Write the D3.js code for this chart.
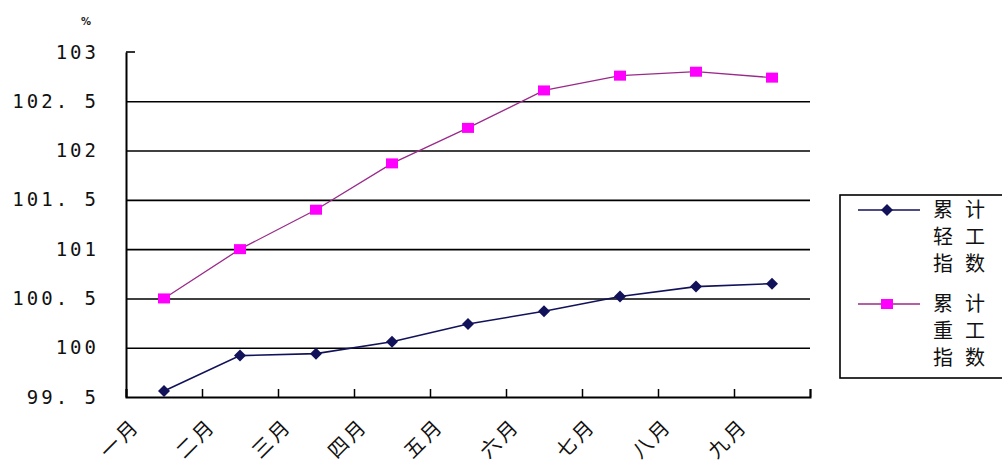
<!DOCTYPE html>
<html>
<head>
<meta charset="utf-8">
<script src="https://cdn.jsdelivr.net/npm/d3@7"></script>
<style>
  body { margin: 0; background: #fff; }
  svg { display: block; }
</style>
</head>
<body>
<div id="chart"></div>
<script>
// data
let months = ["一月", "二月", "三月", "四月", "五月", "六月", "七月", "八月", "九月"];
let lightIndex = [99.56, 99.92, 99.94, 100.06, 100.24, 100.37, 100.52, 100.62, 100.65];
let heavyIndex = [100.5, 101.0, 101.4, 101.87, 102.23, 102.61, 102.76, 102.8, 102.74];
let yTicks = [99.5, 100, 100.5, 101, 101.5, 102, 102.5, 103];
let seriesNames = [["累计", "轻工", "指数"], ["累计", "重工", "指数"]];

let svgWidth = 1002;
let svgHeight = 469;
let margin = { top: 52, right: 192, bottom: 72, left: 126 };
let chartWidth = svgWidth - margin.left - margin.right;
let chartHeight = svgHeight - margin.top - margin.bottom;

let navy = "#12125a";
let magenta = "#ff00ff";
let heavyLine = "#9a2a8a";
let cjk = "'Noto Sans CJK SC', sans-serif";
let diamondPath = "M0,-6L6,0L0,6L-6,0Z";

let svg = d3.select("#chart").append("svg")
  .attr("width", svgWidth)
  .attr("height", svgHeight);

let chartGroup = svg.append("g")
  .attr("transform", `translate(${margin.left}, ${margin.top})`);

// scales
let xBand = d3.scaleBand().domain(months).range([0, chartWidth]);
let xTick = d3.scaleLinear().domain([0, months.length]).range([0, chartWidth]);
let yScale = d3.scaleLinear().domain([99.5, 103]).range([chartHeight, 0]);

// gridlines (not at the top value, which only gets a short tick)
chartGroup.append("g")
  .attr("class", "grid")
  .call(d3.axisLeft(yScale)
    .tickValues(yTicks.filter(d => d > 99.5 && d < 103))
    .tickSize(-chartWidth)
    .tickFormat(""))
  .call(g => g.select(".domain").remove())
  .selectAll("line")
  .attr("stroke", "#000")
  .attr("stroke-width", 1.6);

// short inner tick at the top
chartGroup.append("line")
  .attr("x1", 0).attr("x2", 9)
  .attr("y1", yScale(103)).attr("y2", yScale(103))
  .attr("stroke", "#000").attr("stroke-width", 1.6);

// y axis with labels
let yAxisG = chartGroup.append("g")
  .call(d3.axisLeft(yScale).tickValues(yTicks).tickSize(0).tickPadding(27)
    .tickFormat(d => d3.format("")(d).replace(".", ". ")));
yAxisG.select(".domain").attr("stroke", "#000").attr("stroke-width", 2);
yAxisG.selectAll("text")
  .attr("font-family", "'DejaVu Sans Mono', monospace")
  .attr("font-size", 19)
  .attr("letter-spacing", 3)
  .attr("fill", "#111");

// % unit
svg.append("text")
  .attr("x", 86).attr("y", 25)
  .attr("text-anchor", "middle")
  .attr("font-family", "'DejaVu Sans', sans-serif")
  .attr("font-size", 10)
  .attr("font-weight", "bold")
  .attr("fill", "#222")
  .text("%");

// x axis with inner ticks on the category boundaries
let xAxisG = chartGroup.append("g")
  .attr("transform", `translate(0, ${chartHeight})`)
  .call(d3.axisBottom(xTick).tickValues(d3.range(months.length + 1))
    .tickSize(-8).tickFormat(""));
xAxisG.select(".domain").attr("stroke", "#000").attr("stroke-width", 2);
xAxisG.selectAll("line").attr("stroke", "#000").attr("stroke-width", 1.5);

// rotated month labels
chartGroup.selectAll(".monthLabel")
  .data(months)
  .enter()
  .append("text")
  .attr("class", "monthLabel")
  .attr("transform", (d, i) => `translate(${xTick(i) + 10}, ${chartHeight + 25}) rotate(-45)`)
  .attr("text-anchor", "end")
  .attr("dy", "0.35em")
  .attr("font-family", cjk)
  .attr("font-size", 20)
  .attr("letter-spacing", 3)
  .attr("fill", "#111")
  .text(d => d);

// lines
let line = d3.line()
  .x((d, i) => xBand(months[i]) + xBand.bandwidth() / 2)
  .y(d => yScale(d));

chartGroup.append("path")
  .datum(heavyIndex)
  .attr("d", line)
  .attr("fill", "none")
  .attr("stroke", heavyLine)
  .attr("stroke-width", 1.3);

chartGroup.append("path")
  .datum(lightIndex)
  .attr("d", line)
  .attr("fill", "none")
  .attr("stroke", navy)
  .attr("stroke-width", 1.6);

// markers
chartGroup.selectAll(".heavyPt")
  .data(heavyIndex)
  .enter()
  .append("rect")
  .attr("class", "heavyPt")
  .attr("x", (d, i) => xBand(months[i]) + xBand.bandwidth() / 2 - 6)
  .attr("y", d => yScale(d) - 5)
  .attr("width", 12)
  .attr("height", 10)
  .attr("fill", magenta);

chartGroup.selectAll(".lightPt")
  .data(lightIndex)
  .enter()
  .append("path")
  .attr("class", "lightPt")
  .attr("transform", (d, i) => `translate(${xBand(months[i]) + xBand.bandwidth() / 2}, ${yScale(d)})`)
  .attr("d", diamondPath)
  .attr("fill", navy);

// legend
let legend = svg.append("g").attr("transform", "translate(840, 195)");
legend.append("rect")
  .attr("x", 0).attr("y", 0)
  .attr("width", 180).attr("height", 183)
  .attr("fill", "#fff")
  .attr("stroke", "#000")
  .attr("stroke-width", 1.6);

let legendItems = [
  { color: navy, lineColor: navy, shape: "diamond", lines: seriesNames[0] },
  { color: magenta, lineColor: heavyLine, shape: "square", lines: seriesNames[1] }
];

legendItems.forEach((item, k) => {
  let y0 = 15 + k * 94;
  legend.append("line")
    .attr("x1", 18).attr("x2", 80)
    .attr("y1", y0).attr("y2", y0)
    .attr("stroke", item.lineColor)
    .attr("stroke-width", 1.5);
  if (item.shape === "diamond") {
    legend.append("path")
      .attr("transform", `translate(47, ${y0})`)
      .attr("d", diamondPath)
      .attr("fill", item.color);
  } else {
    legend.append("rect")
      .attr("x", 41).attr("y", y0 - 5)
      .attr("width", 12).attr("height", 10)
      .attr("fill", item.color);
  }
  item.lines.forEach((t, j) => {
    legend.append("text")
      .attr("x", 93)
      .attr("y", y0 + j * 27)
      .attr("dy", "0.35em")
      .attr("font-family", cjk)
      .attr("font-size", 20)
      .attr("letter-spacing", 12)
      .attr("fill", "#111")
      .text(t);
  });
});
</script>
</body>
</html>
